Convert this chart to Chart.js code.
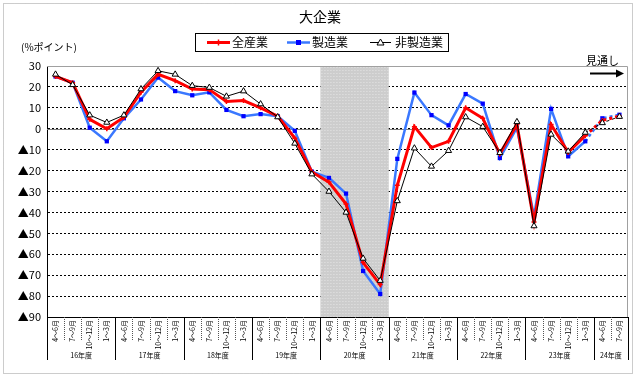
<!DOCTYPE html>
<html>
<head>
<meta charset="utf-8">
<script src="https://cdn.jsdelivr.net/npm/chart.js"></script>
<style>
  body { margin: 0; background: #fff; }
  canvas { display: block; }
</style>
</head>
<body>
<canvas id="myChart" width="637" height="378"></canvas>
<script>
// data block
const fiscalYears = ["16年度", "17年度", "18年度", "19年度", "20年度", "21年度", "22年度", "23年度", "24年度"];
const quarterLabels = ["4～6月", "7～9月", "10～12月", "1～3月"];
const quartersInLastYear = 2;

const allIndustries = [25, 22, 4.5, 0, 5.5, 17.5, 26, 23, 19, 18.7, 13, 13.5, 10, 6, -4.5, -20.7,
    -25.5, -36, -64, -74.5, -27, 1, -9, -6, 10, 5, -12, 2, -44.6, 2, -11.3, -3.3, 4, 6];
const manufacturing = [25, 22, 0.5, -6, 5, 14, 24.5, 18, 16, 17.4, 9, 6, 7, 6, -1, -20.5,
    -23.5, -31, -68, -79, -14.4, 17.3, 6.5, 1.6, 16.6, 12, -14, 0.5, -42, 9.5, -13.2, -6, 5, 6.7];
const nonManufacturing = [26, 21, 6.5, 3, 6.5, 19, 27.7, 26, 20.6, 19.7, 15.5, 18, 11.8, 5.6, -7, -21.7,
    -30, -40, -62, -72.6, -34.5, -9.3, -18, -10.5, 5.6, 1, -11.5, 3.3, -46.5, -2.7, -10.8, -1.8, 2.8, 5.8];

const forecastFrom = 31;          // segments after this index are 見通し
const shadedYear = "20年度";

// categories: one per quarter
const categories = [];
fiscalYears.forEach((fy, y) => {
    const n = (y === fiscalYears.length - 1) ? quartersInLastYear : 4;
    for (let q = 0; q < n; q++) categories.push(quarterLabels[q]);
});

const dashAfter = ctx => ctx.p0DataIndex >= forecastFrom ? [3, 3] : undefined;

const JFONT = "'Noto Sans CJK JP', sans-serif";

// drawing of frame, title, legend, shading, year row
const decor = {
    id: 'decor',
    beforeDatasetsDraw(chart) {
        const ctx = chart.ctx;
        const a = chart.chartArea;
        const x = chart.scales.x, y = chart.scales.y;
        const half = (x.getPixelForValue(1) - x.getPixelForValue(0)) / 2;
        ctx.save();
        // zero line
        ctx.strokeStyle = '#808080';
        ctx.lineWidth = 1;
        ctx.beginPath();
        ctx.moveTo(a.left, Math.round(y.getPixelForValue(0)) + 0.5);
        ctx.lineTo(a.right, Math.round(y.getPixelForValue(0)) + 0.5);
        ctx.stroke();
        // shaded year
        const s = fiscalYears.indexOf(shadedYear) * 4;
        const x0 = x.getPixelForValue(s) - half;
        const x1 = x.getPixelForValue(s + 3) + half;
        ctx.fillStyle = '#cdcdcd';
        ctx.fillRect(x0, a.top, x1 - x0, a.bottom - a.top);
        ctx.fillStyle = '#e6e6e6';
        for (let py = a.top + 1; py < a.bottom; py += 3) {
            for (let px = x0 + ((py / 3) % 2 ? 1 : 2); px < x1; px += 3) ctx.fillRect(px, py, 1, 1);
        }
        // top / right border of plot
        ctx.strokeStyle = '#a0a0a0';
        ctx.beginPath();
        ctx.moveTo(a.left, a.top + 0.5);
        ctx.lineTo(a.right - 0.5, a.top + 0.5);
        ctx.lineTo(a.right - 0.5, a.bottom);
        ctx.stroke();
        ctx.restore();
    },
    afterDraw(chart) {
        const ctx = chart.ctx;
        const a = chart.chartArea;
        const x = chart.scales.x;
        const half = (x.getPixelForValue(1) - x.getPixelForValue(0)) / 2;
        ctx.save();

        // outer frame
        ctx.strokeStyle = '#999';
        ctx.setLineDash([1, 1]);
        ctx.strokeRect(3.5, 3.5, 629, 370);
        ctx.setLineDash([]);

        // quarter separators and year separators
        ctx.lineWidth = 1;
        for (let i = 0; i <= categories.length; i++) {
            const px = Math.round(x.getPixelForValue(i) - half) + 0.5;
            const yearEdge = (i % 4 === 0) || i === categories.length;
            ctx.strokeStyle = yearEdge ? '#000' : '#555';
            ctx.setLineDash(yearEdge ? [] : [1, 1]);
            ctx.beginPath();
            ctx.moveTo(px, a.bottom);
            ctx.lineTo(px, yearEdge ? a.bottom + 43 : a.bottom + 23);
            ctx.stroke();
        }
        ctx.setLineDash([]);

        // year labels
        ctx.fillStyle = '#000';
        ctx.font = "7px " + JFONT;
        ctx.textAlign = 'center';
        ctx.textBaseline = 'middle';
        fiscalYears.forEach((fy, i) => {
            const first = i * 4;
            const last = Math.min(first + 3, categories.length - 1);
            const cx = (x.getPixelForValue(first) + x.getPixelForValue(last)) / 2;
            ctx.fillText(fy, cx, a.bottom + 38);
        });

        // title
        ctx.font = "14px " + JFONT;
        ctx.fillText('大企業', 320, 17);

        // legend box
        ctx.strokeStyle = '#000';
        ctx.strokeRect(195.5, 33.5, 253, 18);
        ctx.font = "12px " + JFONT;
        ctx.textAlign = 'left';
        const ly = 42.5;
        // 全産業
        ctx.strokeStyle = '#ff0000';
        ctx.lineWidth = 3;
        ctx.beginPath(); ctx.moveTo(207, ly); ctx.lineTo(230, ly); ctx.stroke();
        ctx.lineWidth = 1.5;
        ctx.beginPath(); ctx.moveTo(218.5, ly - 3); ctx.lineTo(218.5, ly + 3); ctx.stroke();
        ctx.fillText('全産業', 232, ly);
        // 製造業
        ctx.strokeStyle = '#3a78ff';
        ctx.lineWidth = 2.5;
        ctx.beginPath(); ctx.moveTo(287, ly); ctx.lineTo(310, ly); ctx.stroke();
        ctx.fillStyle = '#0000ff';
        ctx.fillRect(296, ly - 2.5, 5, 5);
        ctx.fillStyle = '#000';
        ctx.fillText('製造業', 312, ly);
        // 非製造業
        ctx.strokeStyle = '#000';
        ctx.lineWidth = 1;
        ctx.beginPath(); ctx.moveTo(370, ly); ctx.lineTo(391, ly); ctx.stroke();
        ctx.fillStyle = '#fff';
        ctx.beginPath(); ctx.moveTo(380.5, ly - 3.5); ctx.lineTo(384, ly + 2.5); ctx.lineTo(377, ly + 2.5); ctx.closePath();
        ctx.fill(); ctx.stroke();
        ctx.fillStyle = '#000';
        ctx.fillText('非製造業', 395, ly);

        // unit label
        ctx.font = "10px " + JFONT;
        ctx.fillText('(%ポイント)', 21, 47);

        // 見通し and arrow
        ctx.font = "11px " + JFONT;
        ctx.fillText('見通し', 586, 61);
        ctx.lineWidth = 2;
        ctx.beginPath(); ctx.moveTo(590, 73.5); ctx.lineTo(618, 73.5); ctx.stroke();
        ctx.beginPath(); ctx.moveTo(624, 73.5); ctx.lineTo(616, 69.5); ctx.lineTo(616, 77.5); ctx.closePath();
        ctx.fill();

        ctx.restore();
    }
};

// config block
const config = {
    type: 'line',
    data: {
        labels: categories,
        datasets: [{
            label: '非製造業',
            data: nonManufacturing,
            order: 0,
            borderColor: '#000',
            borderWidth: 1,
            pointStyle: 'triangle',
            pointRadius: 3.5,
            pointBackgroundColor: '#fff',
            pointBorderColor: '#000',
            pointBorderWidth: 1,
            segment: { borderDash: dashAfter }
        }, {
            label: '全産業',
            data: allIndustries,
            order: 1,
            borderColor: '#ff0000',
            borderWidth: 3,
            pointStyle: 'cross',
            pointRadius: 2.5,
            pointBorderColor: '#ff0000',
            pointBorderWidth: 1.5,
            segment: { borderDash: dashAfter }
        }, {
            label: '製造業',
            data: manufacturing,
            order: 2,
            borderColor: '#3a78ff',
            borderWidth: 2.5,
            pointStyle: 'rect',
            pointRadius: 3,
            pointBackgroundColor: '#0000ff',
            pointBorderColor: '#0000ff',
            pointBorderWidth: 0,
            segment: { borderDash: dashAfter }
        }]
    },
    options: {
        responsive: false,
        animation: false,
        devicePixelRatio: 1,
        layout: { padding: { top: 66, left: 8, right: 9, bottom: 0 } },
        scales: {
            x: {
                offset: true,
                grid: { display: false, drawTicks: false },
                border: { display: true, color: '#000', width: 1 },
                ticks: {
                    autoSkip: false,
                    minRotation: 90,
                    maxRotation: 90,
                    padding: 3,
                    color: '#000',
                    font: { size: 7, family: JFONT }
                },
                afterFit: scale => { scale.height = 61; }
            },
            y: {
                min: -90,
                max: 30,
                grid: { color: '#000', drawTicks: false, lineWidth: 1 },
                border: { display: true, color: '#000', width: 1, dash: [2, 2] },
                ticks: {
                    stepSize: 10,
                    padding: 6,
                    color: '#000',
                    font: { size: 11, family: JFONT },
                    callback: v => v < 0 ? '▲' + (-v) : String(v)
                },
                afterFit: scale => { scale.width = 39; }
            }
        },
        plugins: {
            legend: { display: false },
            title: { display: false },
            tooltip: { enabled: false }
        }
    },
    plugins: [decor]
};

// init render block
const myChart = new Chart(document.getElementById('myChart'), config);
</script>
</body>
</html>
